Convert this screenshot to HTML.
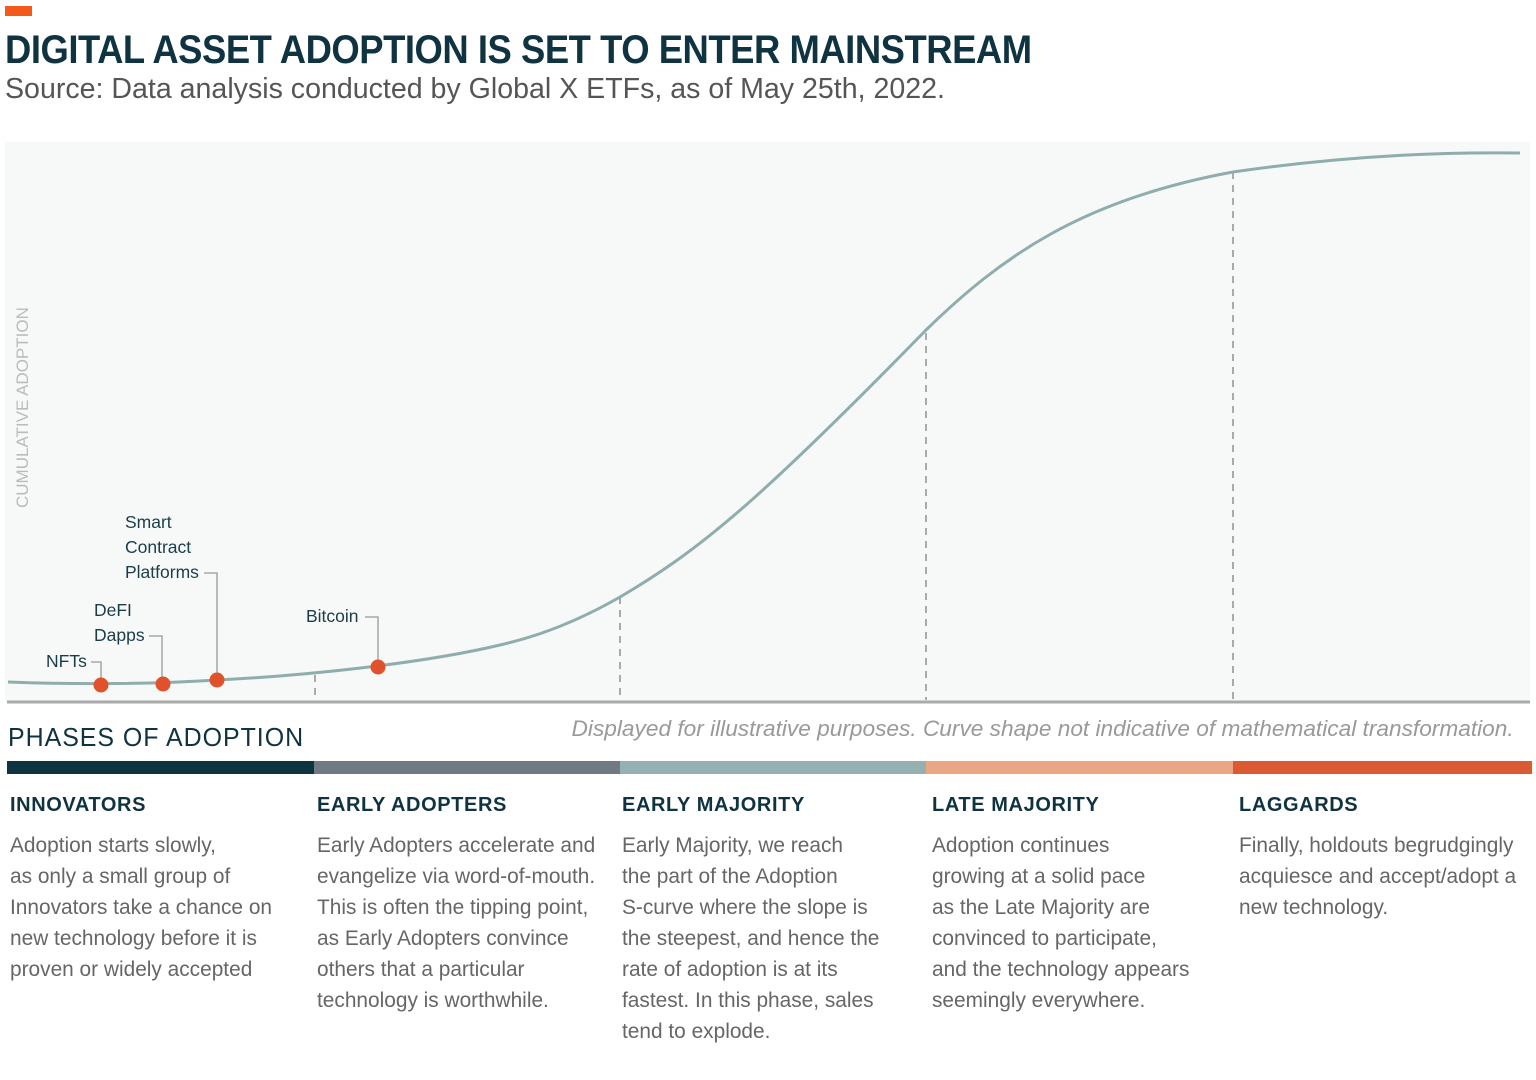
<!DOCTYPE html>
<html><head><meta charset="utf-8"><style>
body{margin:0;width:1536px;height:1080px;background:#fff;font-family:"Liberation Sans",sans-serif;position:relative;overflow:hidden}
.a{position:absolute;white-space:nowrap}
.h{color:#0f3340;font-weight:bold;font-size:20px;letter-spacing:0.6px;top:794px}
.p{color:#666;font-size:21.5px;line-height:31px;top:830px;transform:scaleX(0.97);transform-origin:left}
</style></head><body>
<div class="a" style="left:5px;top:6px;width:27px;height:10px;background:#f25a1b"></div>
<div class="a" style="left:5px;top:28px;font-size:40px;font-weight:bold;color:#0f3340;letter-spacing:-0.5px;transform:scaleX(0.91);transform-origin:left">DIGITAL ASSET ADOPTION IS SET TO ENTER MAINSTREAM</div>
<div class="a" style="left:5px;top:73px;font-size:29px;color:#555;transform:scaleX(0.985);transform-origin:left">Source: Data analysis conducted by Global X ETFs, as of May 25th, 2022.</div>
<div class="a" style="left:5px;top:142px;width:1525px;height:560px;background:#f7f8f8"></div>
<svg class="a" style="left:0;top:0" width="1536" height="780">
<g stroke="#aaa" stroke-width="2" stroke-dasharray="7,6">
<line x1="315" y1="675" x2="315" y2="700"/><line x1="620" y1="597" x2="620" y2="700"/><line x1="926" y1="333" x2="926" y2="700"/><line x1="1233" y1="172" x2="1233" y2="700"/></g>
<line x1="7" y1="702" x2="1530" y2="702" stroke="#aaa" stroke-width="3"/>
<path d="M8,682 C60,684 140,685 217,680 C300,676 420,664 500,645 C540,636 580,620 620,597 C700,550 760,500 926,330 C1000,258 1080,200 1233,172 C1350,155 1450,152 1520,153" fill="none" stroke="#8fadad" stroke-width="3"/>
<g fill="none" stroke="#999" stroke-width="1.3">
<path d="M91,662 H101 V684"/><path d="M149,636 H162 V684"/><path d="M204,573 H217 V680"/><path d="M365,617 H378 V666"/></g>
<g fill="#e0522c"><circle cx="101" cy="685" r="7.5"/><circle cx="163" cy="684" r="7.5"/><circle cx="217" cy="680" r="7.5"/><circle cx="378" cy="667" r="7.5"/></g>
<text x="28" y="508" transform="rotate(-90 28 508)" font-family="Liberation Sans" font-size="17" fill="#bbb">CUMULATIVE ADOPTION</text>
<g font-family="Liberation Sans" font-size="17.5" fill="#1c3d48">
<text x="125" y="528">Smart</text><text x="125" y="553">Contract</text><text x="125" y="578">Platforms</text>
<text x="94" y="616">DeFI</text><text x="94" y="641">Dapps</text><text x="46" y="667">NFTs</text><text x="306" y="622">Bitcoin</text></g>
<rect x="7" y="761" width="307" height="13" fill="#0d3440"/><rect x="314" y="761" width="306" height="13" fill="#6f7a82"/><rect x="620" y="761" width="306" height="13" fill="#95b0b0"/><rect x="926" y="761" width="307" height="13" fill="#e9a783"/><rect x="1233" y="761" width="299" height="13" fill="#dc5a33"/>
</svg>
<div class="a" style="left:8px;top:722px;font-size:26px;color:#0f3340;letter-spacing:1px;transform:scaleX(0.96);transform-origin:left">PHASES OF ADOPTION</div>
<div class="a" style="right:22px;top:716px;font-size:22px;font-style:italic;color:#999;transform:scaleX(1.03);transform-origin:right">Displayed for illustrative purposes. Curve shape not indicative of mathematical transformation.</div>
<div class="a h" style="left:10px">INNOVATORS</div>
<div class="a h" style="left:317px">EARLY ADOPTERS</div>
<div class="a h" style="left:622px">EARLY MAJORITY</div>
<div class="a h" style="left:932px">LATE MAJORITY</div>
<div class="a h" style="left:1239px">LAGGARDS</div>
<div class="a p" style="left:10px">Adoption starts slowly,<br>as only a small group of<br>Innovators take a chance on<br>new technology before it is<br>proven or widely accepted</div>
<div class="a p" style="left:317px">Early Adopters accelerate and<br>evangelize via word-of-mouth.<br>This is often the tipping point,<br>as Early Adopters convince<br>others that a particular<br>technology is worthwhile.</div>
<div class="a p" style="left:622px">Early Majority, we reach<br>the part of the Adoption<br>S-curve where the slope is<br>the steepest, and hence the<br>rate of adoption is at its<br>fastest. In this phase, sales<br>tend to explode.</div>
<div class="a p" style="left:932px">Adoption continues<br>growing at a solid pace<br>as the Late Majority are<br>convinced to participate,<br>and the technology appears<br>seemingly everywhere.</div>
<div class="a p" style="left:1239px">Finally, holdouts begrudgingly<br>acquiesce and accept/adopt a<br>new technology.</div>
</body></html>
